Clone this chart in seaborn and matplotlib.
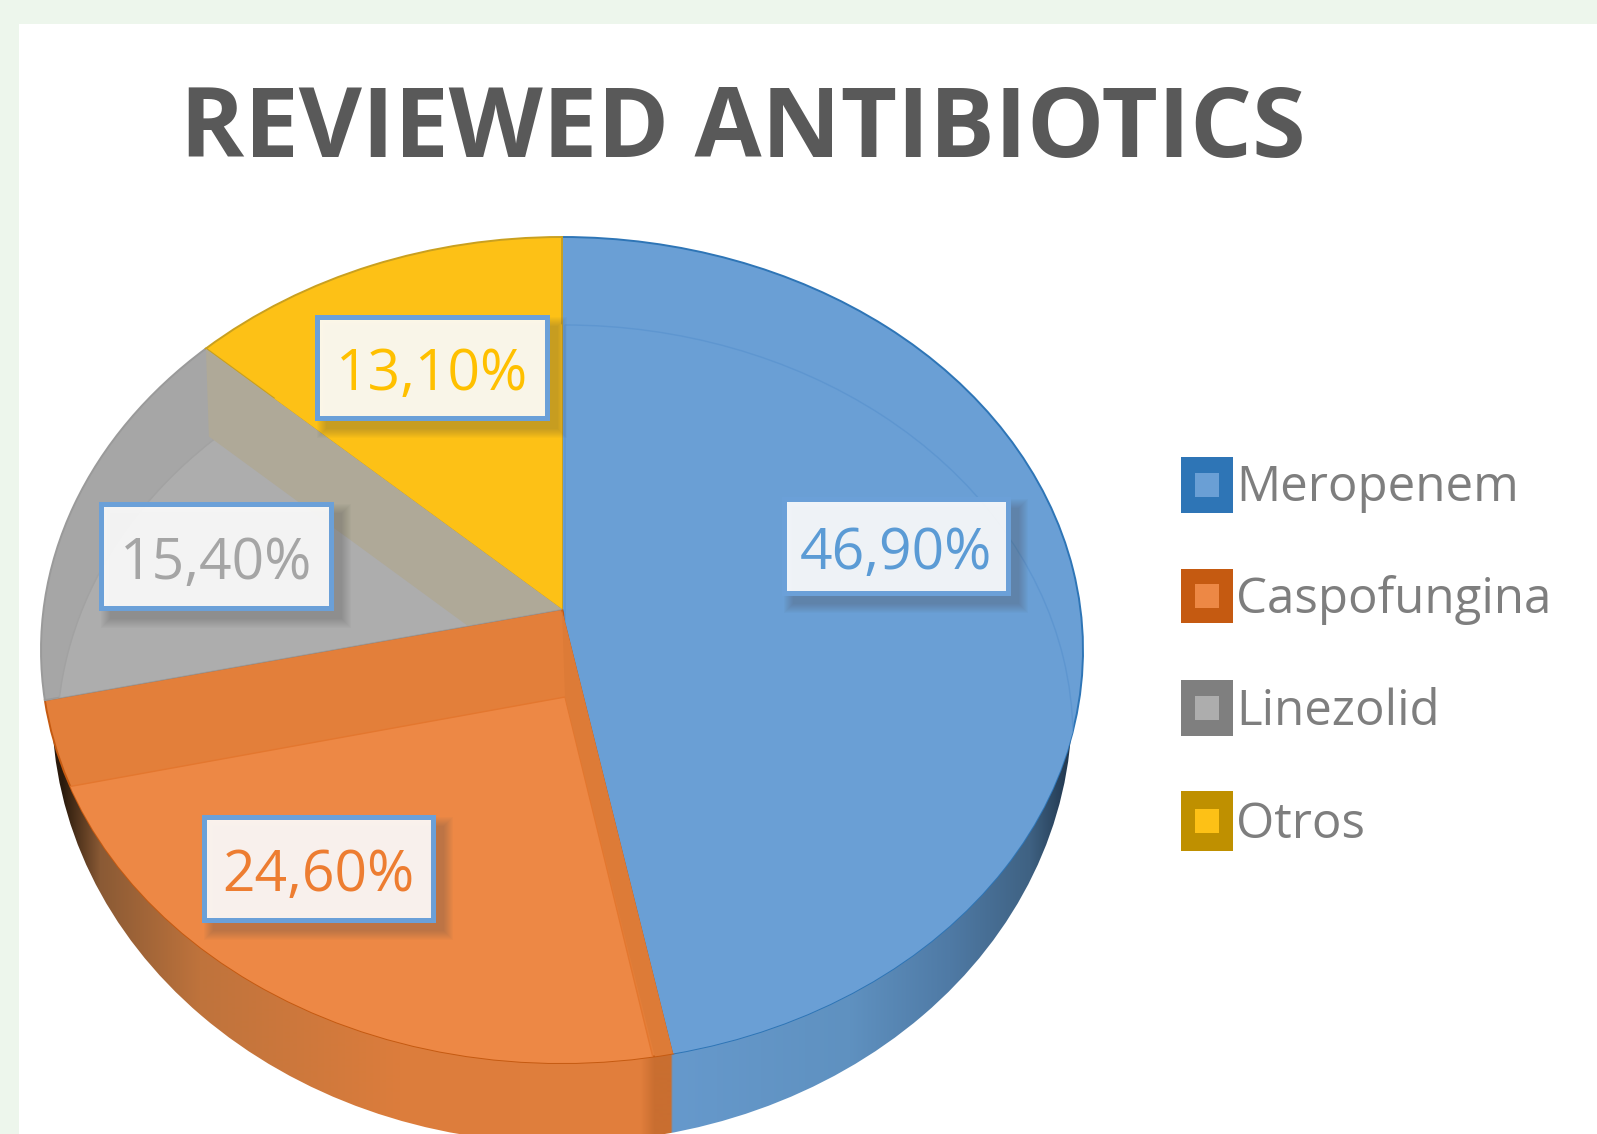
import matplotlib

matplotlib.use("Agg")

import matplotlib.pyplot as plt
import numpy as np
import seaborn as sns
from matplotlib.colors import to_rgb
from matplotlib.patches import Ellipse, Polygon, Rectangle
from matplotlib.transforms import Transform

drugs = ["Meropenem", "Caspofungina", "Linezolid", "Otros"]
shares = [46.9, 24.6, 15.4, 13.1]
share_labels = ["46,90%", "24,60%", "15,40%", "13,10%"]

top_colors = ["#6A9FD5", "#E37F3A", "#A6A6A6", "#FDC116"]
inner_colors = ["#6A9FD5", "#ED8845", "#ADADAD", "#FDC116"]
rim_colors = ["#2E75B6", "#C55A11", "#9A9A9A", "#C9A020"]
inner_edges = ["#5E96D0", "#E3772F", "#A2A2A2", "#FDC116"]
label_colors = ["#5B9BD5", "#ED7D31", "#A5A5A5", "#FFC000"]
marker_edges = ["#2E75B6", "#C55A11", "#7F7F7F", "#BF9000"]

W, H = 1597, 1134
CX, CY = 562, 650
RX, RY = 521, 413
APEX_LIFT = 41
INNER_SHIFT = (3, 88)

sns.set_theme(style="white")
plt.rcParams["font.family"] = ["Open Sans", "DejaVu Sans"]


class TiltedDisc(Transform):
    # maps the unit pie onto the tilted disc, centre pushed up by perspective
    input_dims = 2
    output_dims = 2
    is_separable = False
    has_inverse = False

    def __init__(self, x_scale=1.0, shift=(0, 0)):
        super().__init__()
        self.x_scale = x_scale
        self.shift = shift

    def transform_non_affine(self, values):
        u, v = values[:, 0], values[:, 1]
        k = APEX_LIFT / RY
        w = 1 + k * v
        x = RX * np.sqrt(1 - k * k) * u / w
        y = (RY * v + APEX_LIFT) / w
        return np.column_stack([CX + x * self.x_scale + self.shift[0], CY - y + self.shift[1]])


fig = plt.figure(figsize=(W / 100, H / 100), dpi=100, facecolor="#EDF6EC")
ax = fig.add_axes([0, 0, 1, 1])

# side wall: horizontal shading clipped to the lower disc
wall_x = [41, 62, 100, 200, 400, 640, 655, 671, 673, 850, 950, 1030, 1069, 1083]
wall_cols = ["#2A1A0C", "#2A1A0C", "#8A5A35", "#BF733C", "#DC7D3C", "#E27F3D", "#C96E30", "#C96E30",
             "#6699CC", "#5F91C0", "#4F7AA5", "#3F6283", "#22384F", "#22384F"]
xs = np.arange(41, 1084)
rgb = np.array([to_rgb(c) for c in wall_cols])
strip = np.stack([np.interp(xs, wall_x, rgb[:, i]) for i in range(3)], axis=1)[None, :, :]
img = ax.imshow(strip, extent=(41, 1083, 1143, 650), aspect="auto", zorder=1)

wedges, _ = ax.pie(shares, colors=top_colors, startangle=90, counterclock=False,
                   wedgeprops=dict(linewidth=1.4), radius=1)
inner, _ = ax.pie(shares, colors=inner_colors, startangle=90, counterclock=False,
                  wedgeprops=dict(linewidth=1.0), radius=1)

ax.set_aspect("auto")
ax.set_xlim(0, W)
ax.set_ylim(H, 0)
ax.axis("off")
ax.add_patch(Rectangle((19, 24), W, H, fc="white", ec="none", zorder=0))

wall_edge = Ellipse((562, 708), 1020, 870, transform=ax.transData)
img.set_clip_path(wall_edge)

top_tf = TiltedDisc()
inner_tf = TiltedDisc(x_scale=0.975, shift=INNER_SHIFT)
for i in range(4):
    wedges[i].set_transform(top_tf + ax.transData)
    wedges[i].set_edgecolor(rim_colors[i])
    wedges[i].set_zorder(2)
    inner[i].set_transform(inner_tf + ax.transData)
    inner[i].set_edgecolor(inner_edges[i])
    inner[i].set_zorder(3)
    # pie wedges come with clipping switched off
    inner[i].set_clip_on(True)
    inner[i].set_clip_path(wedges[i])


def rim_point(fraction):
    # point on the rim after the given share of the circle, clockwise from the top
    ang = np.radians(fraction * 360)
    return top_tf.transform_non_affine(np.array([[np.sin(ang), np.cos(ang)]]))[0]


apex = top_tf.transform_non_affine(np.array([[0.0, 0.0]]))[0]
stops = np.cumsum(shares) / sum(shares)
shift = np.array(INNER_SHIFT)

# cut faces along the slice edges that look towards the viewer
for idx, end, col in [(2, stops[2], "#AFA998"), (1, stops[0], "#DD7B37")]:
    p = rim_point(end)
    face = Polygon([apex, p, p + shift, apex + shift], closed=True, fc=col, ec="none", zorder=4)
    ax.add_patch(face)
    face.set_clip_path(wedges[idx])

# data labels in outlined boxes with a soft shadow
boxes = [(784, 499, 224, 94), (204, 817, 229, 103), (101, 504, 230, 104), (317, 317, 230, 101)]
for (x, y, bw, bh), label, col in zip(boxes, share_labels, label_colors):
    for grow in range(1, 11):
        ax.add_patch(Rectangle((x + 10 - grow, y + 10 - grow), bw + 2 * grow, bh + 2 * grow,
                               fc="#4A4A4A", ec="none", alpha=0.03, zorder=5))
    ax.add_patch(Rectangle((x, y), bw, bh, fc="white", ec="none", alpha=0.9, zorder=6))
    ax.add_patch(Rectangle((x, y), bw, bh, fc="none", ec="#6BA0D8", lw=3.6, zorder=6))
    ax.text(x + bw / 2, y + bh / 2 + 1, label, color=col, fontsize=41, ha="center",
            va="center_baseline", zorder=7)

# legend squares and names
legend_boxes = [(457, 56), (569, 54), (680, 56), (791, 60)]
legend_y = [482, 594, 706, 819]
for (top, side), y, name, fc, ec in zip(legend_boxes, legend_y, drugs, inner_colors, marker_edges):
    ax.add_patch(Rectangle((1181, top), 52, side, fc=ec, ec="none", zorder=6))
    ax.add_patch(Rectangle((1195, top + side / 2 - 12), 24, 24, fc=fc, ec="none", zorder=7))
    ax.text(1236, y, name, color="#7E7E7E", fontsize=35.5, va="center_baseline", zorder=6)

ax.text(743, 120, "REVIEWED ANTIBIOTICS", color="#595959", fontsize=70, fontweight="bold",
        ha="center", va="center_baseline", zorder=6)

fig.savefig("out.png", dpi=100, facecolor=fig.get_facecolor())
